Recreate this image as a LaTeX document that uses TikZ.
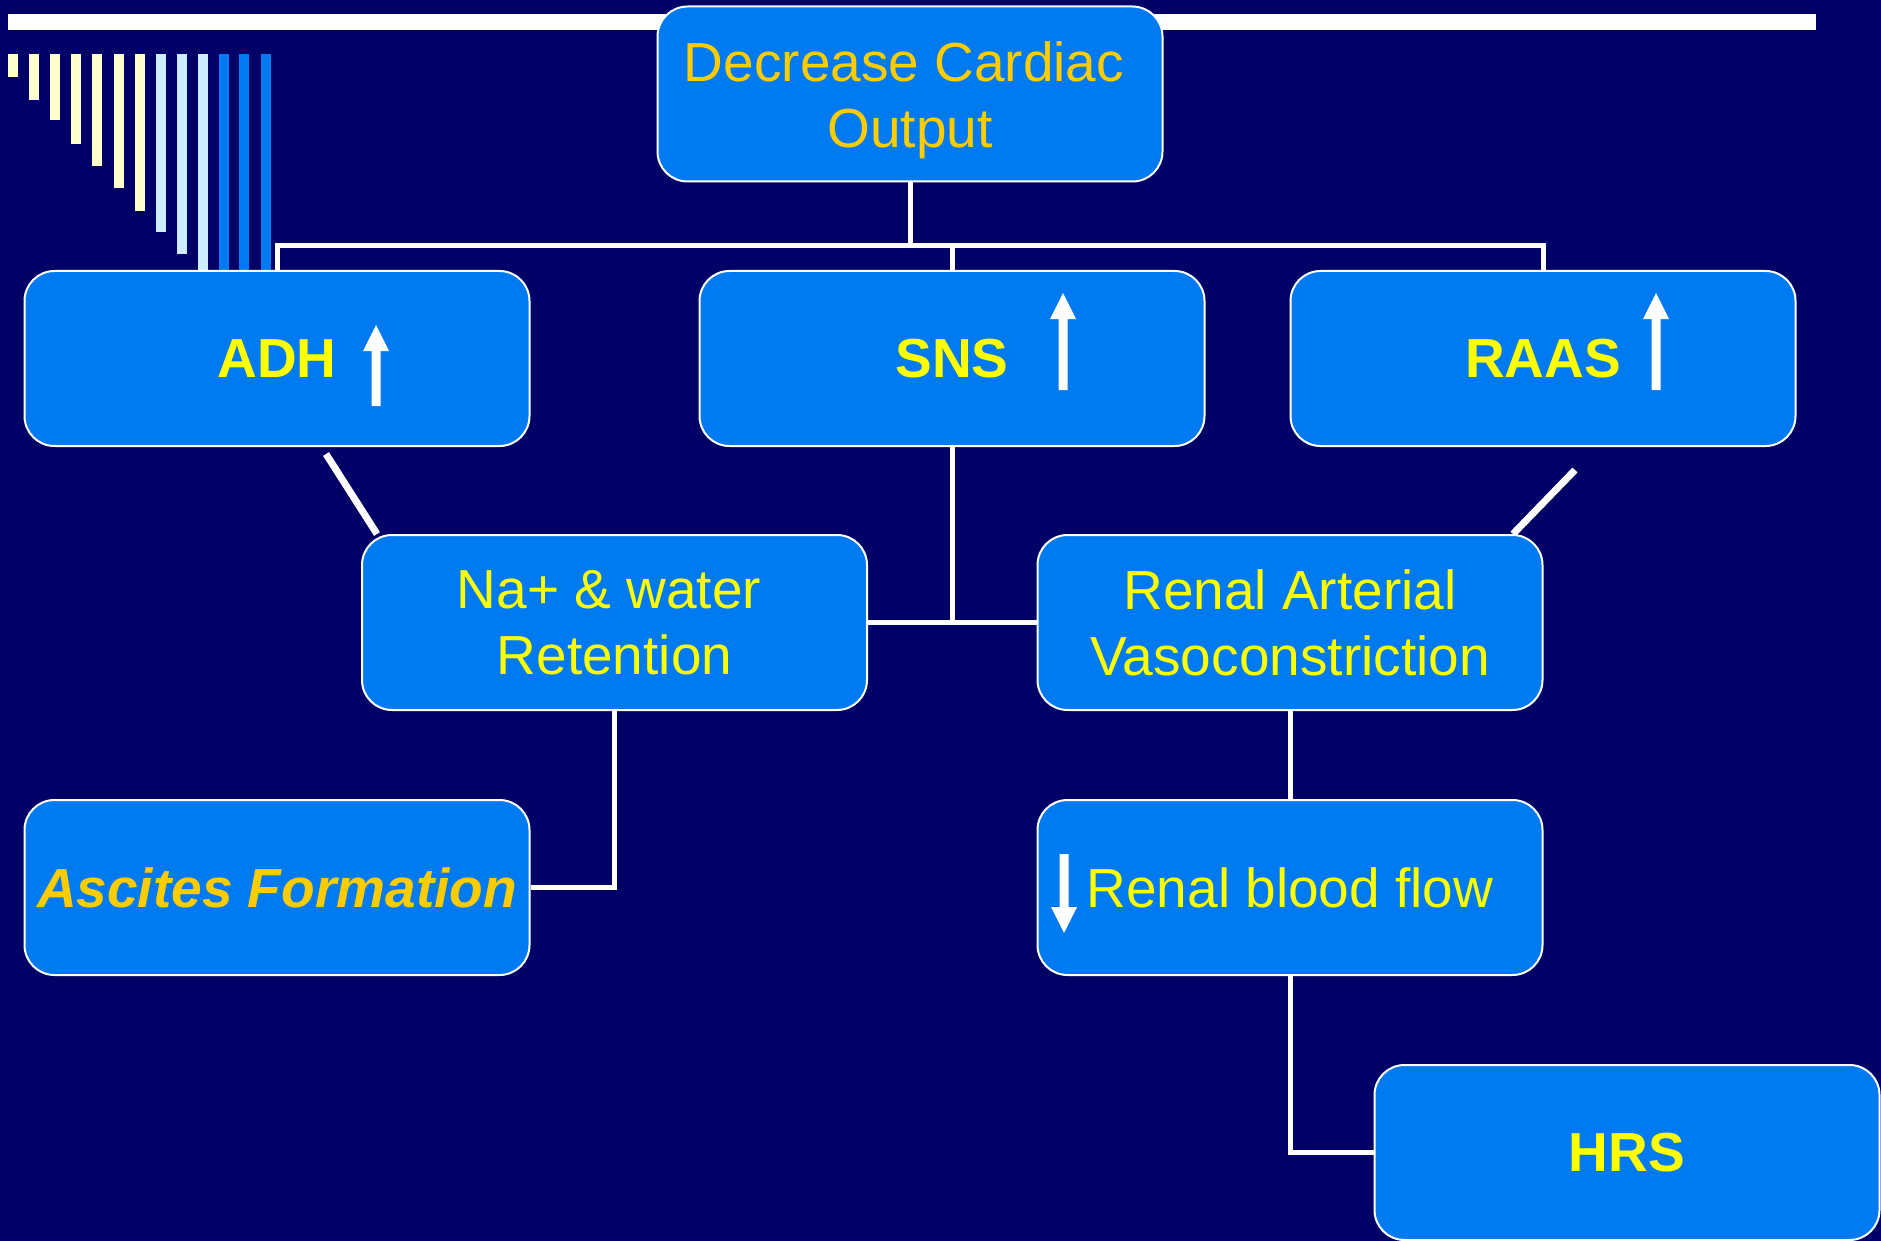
\documentclass[tikz,border=0pt]{standalone}
\usepackage{fontspec}
\setmainfont{Liberation Sans}
\pgfdeclarelayer{back}
\pgfdeclarelayer{lines}
\pgfsetlayers{back,lines,main}
\definecolor{bg}{RGB}{0,0,102}
\definecolor{boxblue}{RGB}{0,122,240}
\definecolor{txty}{RGB}{255,255,0}
\definecolor{txto}{RGB}{255,204,0}
\definecolor{barY}{RGB}{255,255,204}
\definecolor{barL}{RGB}{204,236,255}
\tikzset{
  box/.style={draw=white, line width=2pt, fill=boxblue, rounded corners=30pt,
    minimum width=505pt, minimum height=175pt, inner sep=0pt, align=center,
    text=txty, font=\fontsize{55}{66}\selectfont},
  boldbox/.style={box, font=\fontsize{55}{66}\selectfont\bfseries},
  conn/.style={draw=white, line width=5pt},
  diag/.style={draw=white, line width=7pt},
  sigarrow/.style={fill=white},
}
\newcommand\arrUpAt[3]{% x, tip y, bottom y
  \fill[sigarrow] (#1-4.5,#3) -- (#1-4.5,#2+26) -- (#1-13,#2+26) -- (#1,#2)
    -- (#1+13,#2+26) -- (#1+4.5,#2+26) -- (#1+4.5,#3) -- cycle;}
\newcommand\arrDownAt[3]{% x, top y, tip y
  \fill[sigarrow] (#1-4.5,#2) -- (#1-4.5,#3-26) -- (#1-13,#3-26) -- (#1,#3)
    -- (#1+13,#3-26) -- (#1+4.5,#3-26) -- (#1+4.5,#2) -- cycle;}
\begin{document}
\begin{tikzpicture}[x=1pt,y=-1pt]
\begin{pgfonlayer}{back}
\fill[bg] (0,0) rectangle (1881,1241);
% top rule
\fill[white] (8,14) rectangle (1816,30);
% decorative bars
\foreach \xa/\yb/\c in {8/77/barY, 29/100/barY, 50/120/barY, 71/144/barY,
  92/166/barY, 114/188/barY, 135/211/barY, 156/232/barL, 177/254/barL,
  198/272/barL, 219/272/boxblue, 239/272/boxblue, 261/272/boxblue}
  \fill[\c] (\xa,54) rectangle (\xa+10,\yb);
\end{pgfonlayer}
\useasboundingbox (0,0) rectangle (1881,1241);

\coordinate (bus) at (910,246);
\coordinate (d1a) at (326,454);
\coordinate (d1b) at (377,534);
\coordinate (d2a) at (1575,470);
\coordinate (d2b) at (1513,534);

% boxes
\node[box, text=txto] (dco) at (910,94) {\rule{0pt}{52pt}Decrease Cardiac\hspace*{12pt}\\Output};
\node[boldbox] (adh) at (277,358.5) {ADH};
\node[boldbox] (sns) at (952,358.5) {SNS};
\node[boldbox] (raas) at (1543,358.5) {RAAS};
\node[box] (na) at (614.5,622.5) {Na+ \& water\hspace*{11pt}\\Retention};
\node[box] (ra) at (1290,622.5) {Renal Arterial\\Vasoconstriction};
\node[box, text=txto, font=\fontsize{55}{66}\selectfont\bfseries\itshape] (asc) at (277,887.5) {Ascites Formation};
\node[box] (rbf) at (1290,887.5) {Renal blood flow};
\node[boldbox] (hrs) at (1627,1152.5) {HRS};

% connectors (behind boxes)
\begin{pgfonlayer}{lines}
\draw[conn] (dco.south) -- (bus);
\draw[conn] (adh.north) -- (adh.north |- bus) -- (raas.north |- bus) -- (raas.north);
\draw[conn] (sns.north) -- (sns.north |- bus);
\draw[conn] (sns.south) -- (sns.south |- na.east);
\draw[conn] (na.east) -- (ra.west);
\draw[conn] (na.south) |- (asc.east);
\draw[conn] (ra.south) -- (rbf.north);
\draw[conn] (rbf.south) |- (hrs.west);
\draw[diag] (d1a) -- (d1b);
\draw[diag] (d2a) -- (d2b);
\end{pgfonlayer}

% up/down signs
\arrUpAt{376}{325}{406}
\arrUpAt{1063}{293}{390}
\arrUpAt{1656}{293}{390}
\arrDownAt{1064}{854}{933}
\end{tikzpicture}
\end{document}
